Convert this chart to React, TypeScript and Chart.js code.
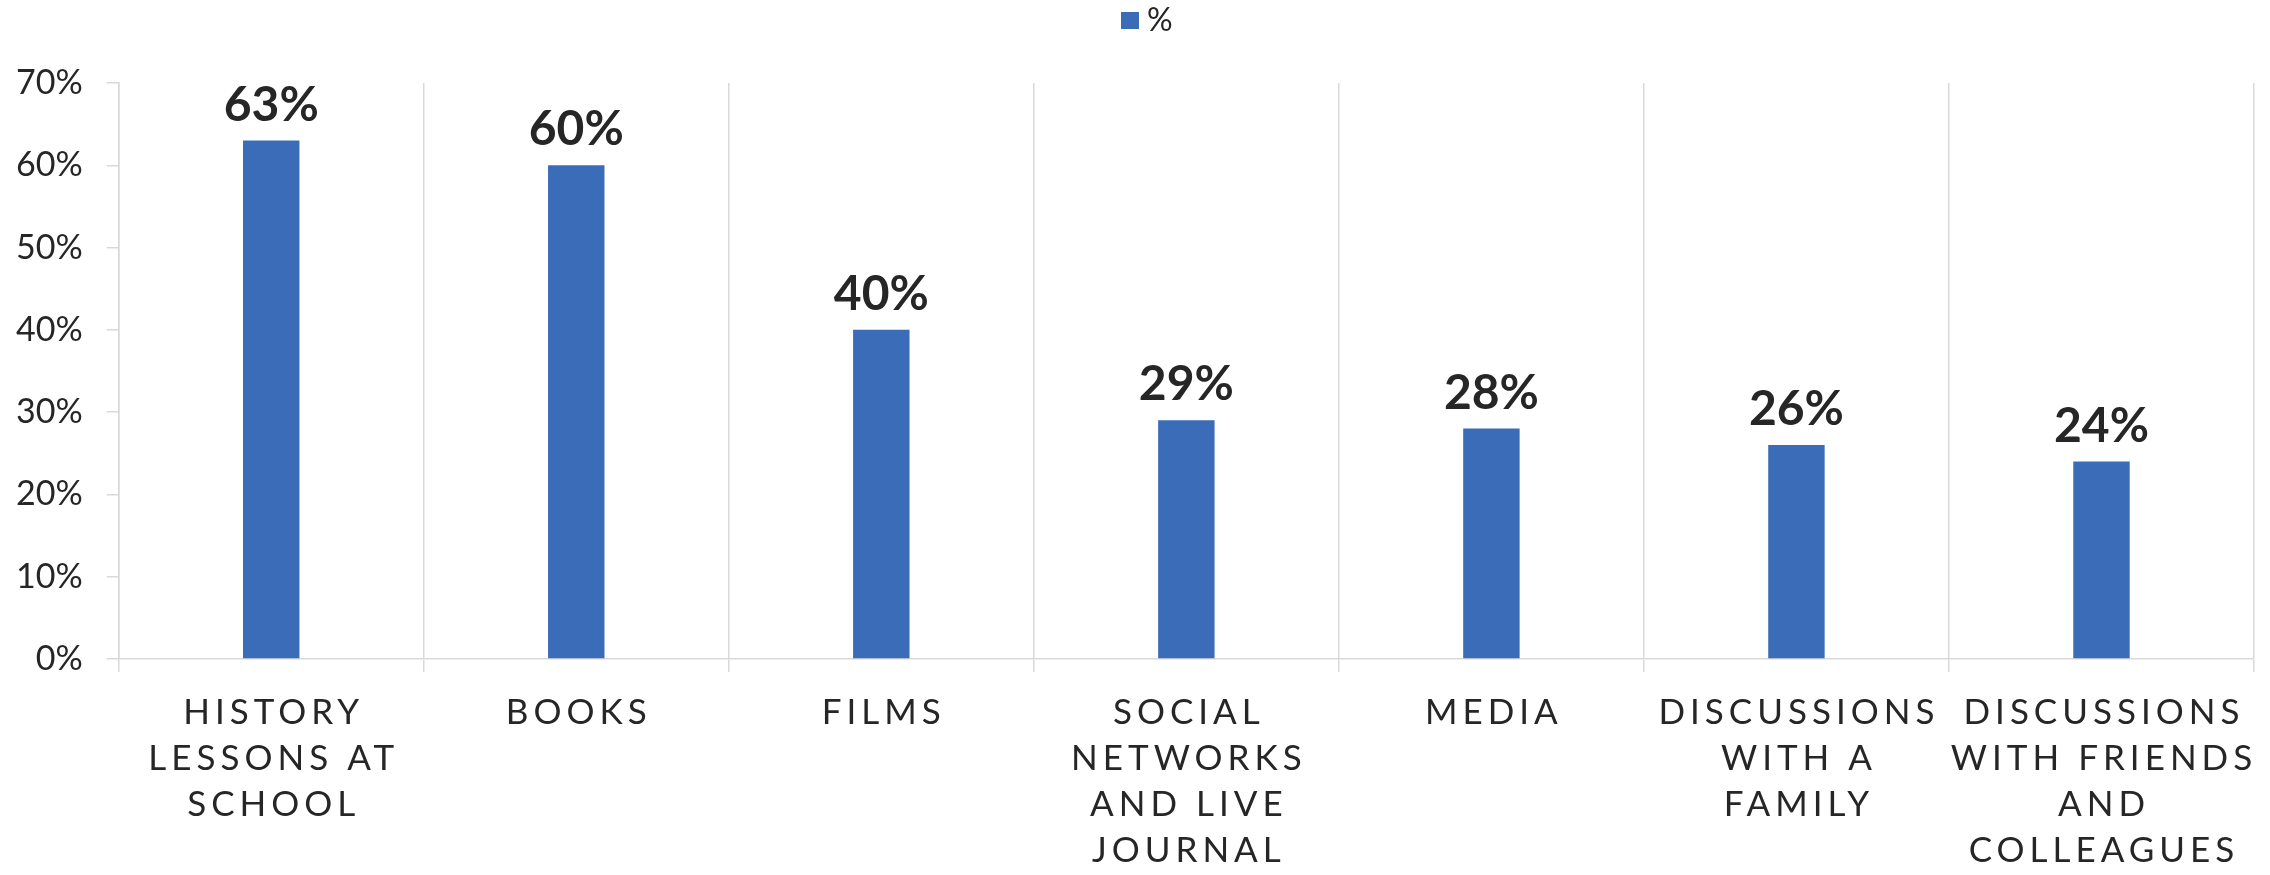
import React, { useEffect, useRef } from "react";
import { Chart, registerables, CategoryScale } from "chart.js";

Chart.register(...registerables);

const LETTER_SPACING = 5;

class SpacedCategoryScale extends CategoryScale {
  static id = "spacedCategory";
  static defaults = CategoryScale.defaults;
  drawLabels(chartArea: any) {
    const ctx: any = this.ctx;
    ctx.save();
    ctx.letterSpacing = `${LETTER_SPACING}px`;
    ctx.translate(LETTER_SPACING / 2, 0);
    super.drawLabels(chartArea);
    ctx.restore();
  }
}
Chart.register(SpacedCategoryScale as any);

const categories: string[][] = [
  ["HISTORY", "LESSONS AT", "SCHOOL"],
  ["BOOKS"],
  ["FILMS"],
  ["SOCIAL", "NETWORKS", "AND LIVE", "JOURNAL"],
  ["MEDIA"],
  ["DISCUSSIONS", "WITH A", "FAMILY"],
  ["DISCUSSIONS", "WITH FRIENDS", "AND", "COLLEAGUES"],
];
const seriesName = "%";
const values: number[] = [63, 60, 40, 29, 28, 26, 24];
const yTicks: number[] = [0, 10, 20, 30, 40, 50, 60, 70];

const BAR_COLOR = "#3B6CB7";
const GRID = "#D9D9D9";
const TEXT = "#262626";
const FONT = "Lato, 'Noto Sans', sans-serif";

const valueLabels = {
  id: "valueLabels",
  afterDatasetsDraw(chart: any) {
    const ctx = chart.ctx;
    const meta = chart.getDatasetMeta(0);
    ctx.save();
    ctx.font = `bold 48px ${FONT}`;
    ctx.fillStyle = TEXT;
    ctx.textAlign = "center";
    ctx.textBaseline = "alphabetic";
    meta.data.forEach((bar: any, i: number) => {
      ctx.fillText(`${values[i]}%`, bar.x, bar.y - 20);
    });
    ctx.restore();
  },
};

const topLegend = {
  id: "topLegend",
  afterDraw(chart: any) {
    const ctx = chart.ctx;
    ctx.save();
    ctx.font = `32px ${FONT}`;
    const box = 18;
    const gap = 8;
    const x0 = chart.width / 2 - 14;
    ctx.fillStyle = BAR_COLOR;
    ctx.fillRect(x0, 12, box, 17);
    ctx.fillStyle = TEXT;
    ctx.textBaseline = "middle";
    ctx.textAlign = "left";
    ctx.fillText(seriesName, x0 + box + gap, 21);
    ctx.restore();
  },
};

export default function App() {
  const ref = useRef<HTMLCanvasElement | null>(null);
  useEffect(() => {
    if (!ref.current) return;
    const chart = new Chart(ref.current, {
      type: "bar",
      data: {
        labels: categories as any,
        datasets: [
          {
            label: seriesName,
            data: values,
            backgroundColor: BAR_COLOR,
            barPercentage: 0.37,
            categoryPercentage: 0.5,
          },
        ],
      },
      options: {
        animation: false,
        responsive: true,
        maintainAspectRatio: false,
        layout: { padding: { top: 83, right: 16, left: 0, bottom: 0 } },
        plugins: {
          legend: { display: false },
          tooltip: { enabled: false },
        },
        scales: {
          x: {
            type: "spacedCategory" as any,
            offset: true,
            grid: {
              offset: true,
              color: GRID,
              lineWidth: 1.5,
              tickLength: 13,
              drawOnChartArea: true,
            },
            border: { color: GRID, width: 1.5 },
            ticks: {
              autoSkip: false,
              maxRotation: 0,
              minRotation: 0,
              padding: 18,
              color: TEXT,
              font: { family: FONT, size: 35, lineHeight: "46px" as any },
            },
            afterFit: (scale: any) => {
              scale.height = 216;
            },
          },
          y: {
            min: 0,
            max: 70,
            afterBuildTicks: (scale: any) => {
              scale.ticks = yTicks.map((v) => ({ value: v }));
            },
            grid: {
              drawOnChartArea: false,
              color: GRID,
              lineWidth: 1.5,
              tickLength: 12,
            },
            border: { color: GRID, width: 1.5 },
            ticks: {
              padding: 24,
              color: TEXT,
              font: { family: FONT, size: 34 },
              callback: (v: any) => `${v}%`,
            },
            afterFit: (scale: any) => {
              scale.width = 118.7;
            },
          },
        },
      },
      plugins: [valueLabels, topLegend],
    });
    return () => chart.destroy();
  }, []);
  return (
    <div style={{ position: "fixed", left: 0, top: 0, width: 2270, height: 875, background: "#fff" }}>
      <canvas ref={ref} />
    </div>
  );
}
